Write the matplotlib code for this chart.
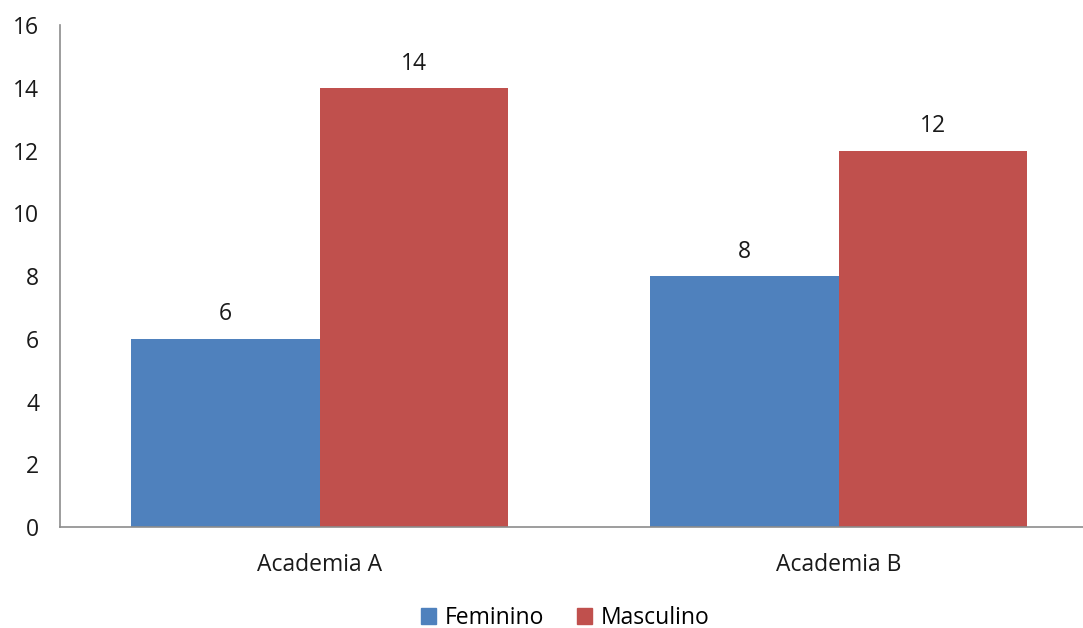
import numpy as np
import matplotlib.pyplot as plt
from matplotlib.patches import Patch

categories = ['Academia A', 'Academia B']
feminino = [6, 8]
masculino = [14, 12]
yticks = [0, 2, 4, 6, 8, 10, 12, 14, 16]

blue = '#4F81BD'
red = '#C0504D'

plt.rcParams['font.family'] = ['Open Sans', 'DejaVu Sans']
fs = 16.5

fig = plt.figure(figsize=(10.83, 6.28), dpi=100)
# axes runs off the right edge, like the original sheet
ax = fig.add_axes([60 / 1083, 101 / 628, 1038.5 / 1083, 501.7 / 628])

x = np.arange(len(categories))
w = 0.363
b1 = ax.bar(x - w / 2, feminino, w, color=blue, label='Feminino')
b2 = ax.bar(x + w / 2, masculino, w, color=red, label='Masculino')

for bars, vals in ((b1, feminino), (b2, masculino)):
    for r, v in zip(bars, vals):
        ax.annotate(str(v), (r.get_x() + r.get_width() / 2, v),
                    xytext=(0, 9), textcoords='offset points',
                    ha='center', va='bottom', fontsize=fs, color='#1a1a1a')

ax.set_xlim(-0.5, 1.5)
ax.set_ylim(0, 16)
ax.set_yticks(yticks)
ax.set_xticks(x)
ax.set_xticklabels(categories)
ax.tick_params(axis='y', length=0, pad=15, labelsize=fs, labelcolor='#1a1a1a')
ax.tick_params(axis='x', length=0, pad=19, labelsize=fs, labelcolor='#1a1a1a')
for s in ('top', 'right'):
    ax.spines[s].set_visible(False)
for s in ('left', 'bottom'):
    ax.spines[s].set_color('#8c8c8c')
    ax.spines[s].set_linewidth(1.2)

handles = [Patch(color=blue, label='Feminino'), Patch(color=red, label='Masculino')]
fig.legend(handles=handles, loc='center', bbox_to_anchor=(0.522, 1 - 618 / 628),
           ncol=2, frameon=False, fontsize=fs, handlelength=0.65, handleheight=0.65,
           handletextpad=0.4, columnspacing=1.4)

fig.savefig('out.png', dpi=100)
